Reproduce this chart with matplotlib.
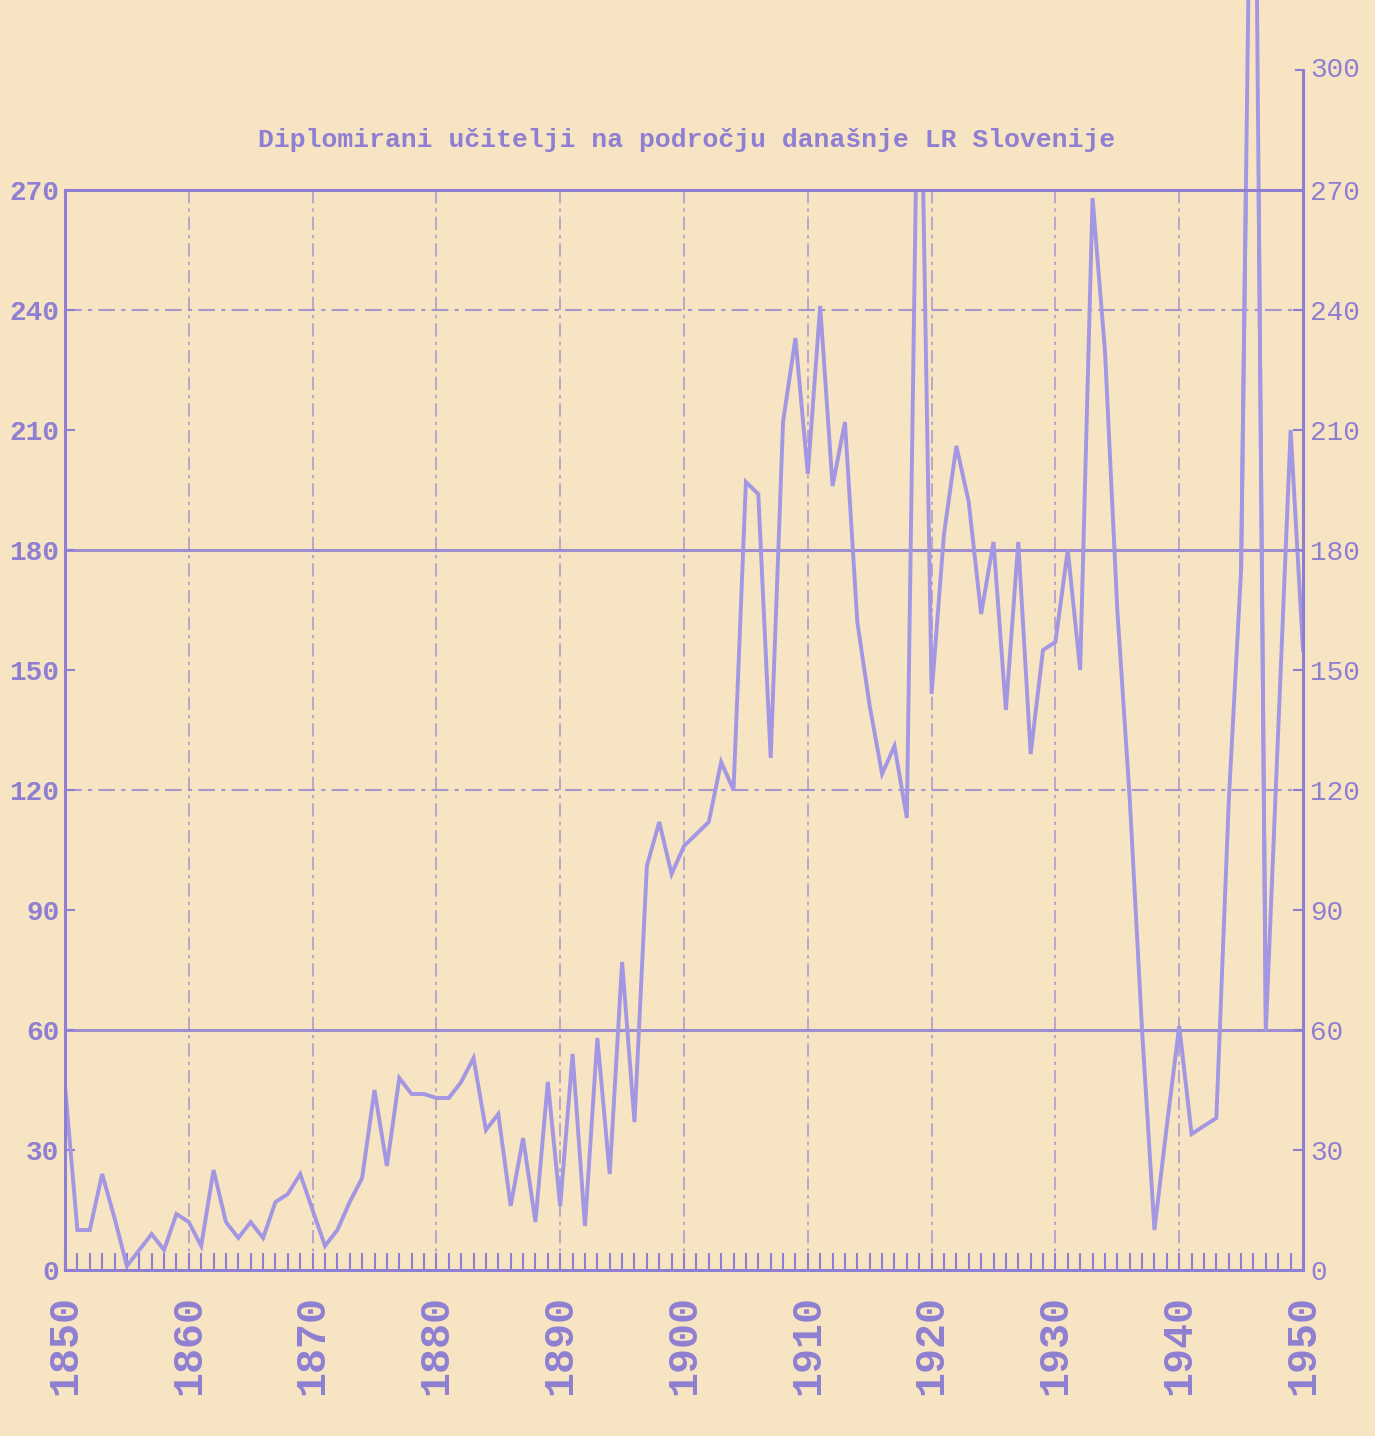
import numpy as np
import matplotlib.pyplot as plt
from matplotlib import transforms

# typewriter look
plt.rcParams['font.family'] = ['Liberation Mono', 'DejaVu Sans Mono']

title = "Diplomirani učitelji na področju današnje LR Slovenije"

years = list(range(1850, 1951))
# number of graduated teachers per year
teachers = [
    46, 10, 10, 24, 13, 1, 5, 9, 5, 14,            # 1850-1859
    12, 6, 25, 12, 8, 12, 8, 17, 19, 24,           # 1860-1869
    15, 6, 10, 17, 23, 45, 26, 48, 44, 44,         # 1870-1879
    43, 43, 47, 53, 35, 39, 16, 33, 12, 47,        # 1880-1889
    16, 54, 11, 58, 24, 77, 37, 101, 112, 99,      # 1890-1899
    106, 109, 112, 127, 120, 197, 194, 128, 212, 233,  # 1900-1909
    199, 241, 196, 212, 162, 141, 124, 131, 113, 330,  # 1910-1919
    144, 184, 206, 192, 164, 182, 140, 182, 129, 155,  # 1920-1929
    157, 180, 150, 268, 230, 165, 118, 60, 10, 36,     # 1930-1939
    61, 34, 36, 38, 117, 175, 420, 60, 135, 210,       # 1940-1949
    155,                                               # 1950
]

left_ticks = [0, 30, 60, 90, 120, 150, 180, 210, 240, 270]
right_ticks = [0, 30, 60, 90, 120, 150, 180, 210, 240, 270]
year_ticks = list(range(1850, 1951, 10))

paper = '#f6e4c2'
ink = '#8f7fd2'
line_ink = '#a396e2'

fig = plt.figure(figsize=(13.75, 14.36), dpi=100)
fig.patch.set_facecolor(paper)
ax = fig.add_axes([65 / 1375, 166 / 1436, 1238 / 1375, 1080 / 1436])
ax.set_facecolor(paper)
ax.set_xlim(1850, 1950)
ax.set_ylim(0, 270)

# grid as typed on the sheet
for v in [60, 180]:
    ax.axhline(v, color=ink, lw=2.2, alpha=0.85)
for v in [120, 240]:
    ax.axhline(v, color=ink, lw=1.5, ls=(0, (8, 3, 2, 3)), alpha=0.75)
for y in range(1860, 1950, 10):
    ax.axvline(y, color=ink, lw=1.2, ls=(0, (8, 3, 2, 3)), alpha=0.7)

# series: clipped at the frame (1919 spike), then the 1946 spike runs off the sheet
ax.plot(years, teachers, color=line_ink, lw=2.8, solid_joinstyle='miter')
ax.plot(years[95:98], teachers[95:98], color=line_ink, lw=2.8, clip_on=False)

for side in ['left', 'bottom', 'top', 'right']:
    ax.spines[side].set_color(ink)
    ax.spines[side].set_linewidth(2.2)

ax.set_yticks(left_ticks)
ax.set_yticklabels([str(v) for v in left_ticks], fontsize=20, fontweight='bold', color=ink)
ax.tick_params(axis='y', direction='in', length=7, width=1.5, color=ink, pad=4)

ax.set_xticks(year_ticks)
ax.set_xticklabels([str(y) for y in year_ticks], rotation=90, fontsize=30,
                   fontweight='bold', color=ink)
ax.set_xticks(years, minor=True)
ax.tick_params(axis='x', which='both', direction='in', length=12, width=1.5,
               color=ink, pad=18)

# right scale, extended to 300
ax2 = ax.twinx()
ax2.set_ylim(0, 270)
ax2.set_yticks(right_ticks)
ax2.set_yticklabels([str(v) for v in right_ticks], fontsize=20, color=ink)
ax2.tick_params(axis='y', direction='in', length=7, width=1.5, color=ink, pad=5)
for side in ['left', 'bottom', 'top', 'right']:
    ax2.spines[side].set_visible(False)

ax.plot([1950, 1950], [270, 300], color=ink, lw=2.2, clip_on=False)
ax.plot([1949.45, 1950], [300, 300], color=ink, lw=1.5, clip_on=False)
trans = transforms.offset_copy(ax.transData, fig=fig, x=5, y=0, units='points')
ax.text(1950, 300, '300', transform=trans, ha='left', va='center',
        fontsize=20, color=ink, clip_on=False)

fig.text(0.4997, 1 - 140 / 1436, title, ha='center', va='center',
         fontsize=19, fontweight='bold', color=ink)

fig.savefig('out.png', dpi=100, facecolor=paper)
